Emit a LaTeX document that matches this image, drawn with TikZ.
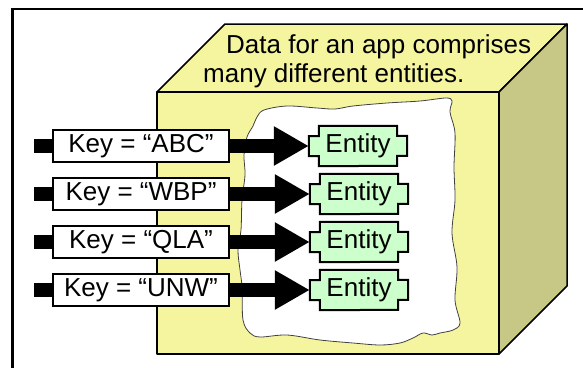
\documentclass[tikz,border=0pt]{standalone}
\usepackage{fontspec}
\setmainfont{Liberation Sans}
\usetikzlibrary{arrows.meta,calc}
\definecolor{frontY}{HTML}{F5F5A0}
\definecolor{sideY}{HTML}{C8C886}
\definecolor{entG}{HTML}{CCFFCC}
\definecolor{tornline}{HTML}{404040}
\pgfdeclarelayer{back}
\pgfdeclarelayer{mid}
\pgfsetlayers{back,mid,main}
\newcommand{\entoutline}[1]{%
  \filldraw[entshape] ([xshift=10pt]#1.north west) -- ([xshift=-10pt]#1.north east)
    -- ++(0,10) -- ++(10,0) -- ++(0,20) -- ++(-10,0) -- ++(0,10)
    -- ([xshift=10pt]#1.south west) -- ++(0,-10) -- ++(-10,0) -- ++(0,-20) -- ++(10,0) -- cycle;}
\begin{document}
\begin{tikzpicture}[x=1pt,y=-1pt,
  txt/.style={font=\fontsize{26}{30}\selectfont},
  keybox/.style={txt, draw=black, line width=2, fill=white, minimum width=176pt, minimum height=32pt, inner sep=0pt},
  entnode/.style={txt, minimum width=98pt, minimum height=40pt, inner sep=0pt},
  entshape/.style={draw=black, line width=2, fill=entG, line join=miter},
  keyarrow/.style={line width=14pt, -{Triangle[length=35pt,width=37pt]}},
  stub/.style={line width=14pt},
  cubeface/.style={draw=black, line width=1.5, line join=round},
  title/.style={txt, inner sep=0pt, anchor=base west}]
\useasboundingbox (0,0) rectangle (583,367);
% frame
\draw[line width=2.5] (600,9) -- (12.5,9) -- (12.5,390);
\begin{pgfonlayer}{back}
  % cube
  \filldraw[cubeface, fill=frontY] (157,92) -- (225,24) -- (567,24) -- (499,92) -- cycle;
  \filldraw[cubeface, fill=sideY] (499,92) -- (567,24) -- (567,286) -- (499,354) -- cycle;
  \filldraw[cubeface, fill=frontY] (157,92) rectangle (499,354);
  % torn white area
  \filldraw[fill=white, draw=tornline, line width=0.8]
    plot[smooth cycle, tension=0.55] coordinates {
      (247,137) (253,126) (257,117) (264,110) (287,106) (317,108) (335,109) (353,106)
      (387,103) (420,101) (446,98) (452,101) (450,112) (455,133) (454,167) (455,200)
      (452,233) (457,267) (455,300) (460,323) (453,330) (440,333) (432,335) (423,333)
      (413,338) (400,343) (380,345) (353,343) (320,340) (287,335) (260,337) (250,333)
      (243,320) (242,287) (240,270) (238,250) (241,230) (242,200) (245,175) (244,155)};
\end{pgfonlayer}
% title
\node[title] (t1) at (226,53) {Data for an app comprises};
\node[title] (t2) at (203,82) {many different entities.};
% keys
\node[keybox] (k1) at (141,146) {Key = “ABC”};
\node[keybox] (k2) at (141,194) {Key = “WBP”};
\node[keybox] (k3) at (141,242) {Key = “QLA”};
\node[keybox] (k4) at (141,290) {Key = “UNW”};
% entities
\node[entnode] (e1) at (358,146) {Entity};
\node[entnode] (e2) at (359,194) {Entity};
\node[entnode] (e3) at (359,242) {Entity};
\node[entnode] (e4) at (359,290) {Entity};
\begin{pgfonlayer}{mid}
  \entoutline{e1}\entoutline{e2}\entoutline{e3}\entoutline{e4}
\end{pgfonlayer}
% stubs and arrows
\foreach \i in {1,2,3,4}{
  \draw[stub] (k\i.west) -- ++(-18,0);
  \draw[keyarrow] (k\i.east) -- (e\i.west);
}
\end{tikzpicture}
\end{document}
